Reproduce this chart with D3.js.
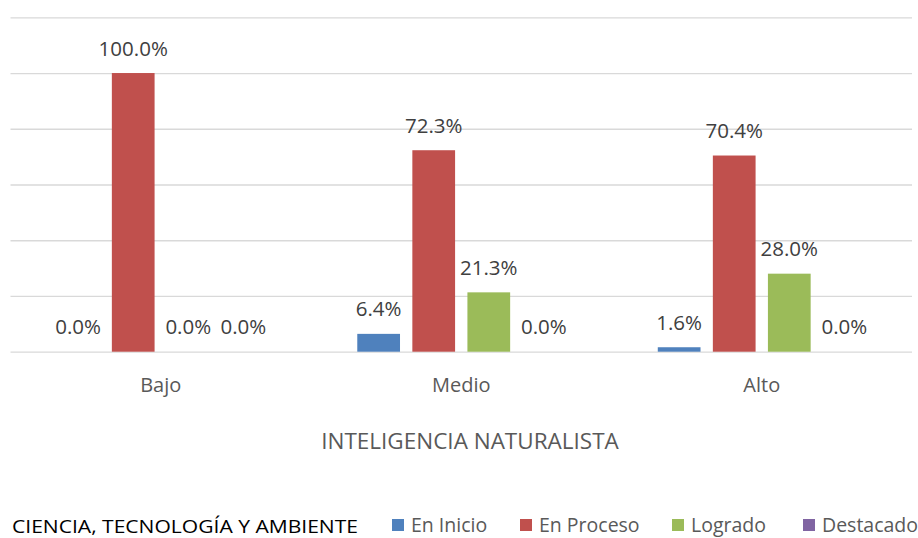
<!DOCTYPE html>
<html>
<head>
<meta charset="utf-8">
<script src="https://cdn.jsdelivr.net/npm/d3@7"></script>
<style>
  html, body { margin: 0; padding: 0; background: #fff; }
  svg { display: block; }
  text { font-family: "Open Sans", sans-serif; }
</style>
</head>
<body>
<svg id="chart" width="918" height="538"></svg>
<script>
const categories = ["Bajo", "Medio", "Alto"];
const seriesNames = ["En Inicio", "En Proceso", "Logrado", "Destacado"];
const enInicio = [0, 6.4, 1.6];
const enProceso = [100, 72.3, 70.4];
const logrado = [0, 21.3, 28.0];
const destacado = [0, 0, 0];
const yTicks = [0, 20, 40, 60, 80, 100, 120];
const colors = ["#4F81BD", "#C0504D", "#9BBB59", "#8064A2"];
const xTitle = "INTELIGENCIA NATURALISTA";
const legendTitle = "CIENCIA, TECNOLOGÍA Y AMBIENTE";

const seriesValues = [enInicio, enProceso, logrado, destacado];
const svg = d3.select("#chart");

const plotLeft = 10.5, plotRight = 912, plotTop = 17.3, plotBottom = 351.7;

const x0 = d3.scaleBand().domain(categories).range([plotLeft, plotRight])
  .paddingInner(0.308).paddingOuter(0.154);
const x1 = d3.scaleBand().domain(seriesNames).range([0, x0.bandwidth()])
  .paddingInner(0.224).paddingOuter(0);
const y = d3.scaleLinear().domain([0, 120]).range([plotBottom, plotTop]);

// gridlines
const yAxis = d3.axisLeft(y).tickValues(yTicks).tickSize(-(plotRight - plotLeft)).tickFormat("");
const gAxis = svg.append("g").attr("transform", `translate(${plotLeft},0)`).call(yAxis);
gAxis.select(".domain").remove();
gAxis.selectAll(".tick line").attr("stroke", "#d9d9d9").attr("stroke-width", 1.3);

// bars
categories.forEach((cat, ci) => {
  const g = svg.append("g").attr("transform", `translate(${x0(cat)},0)`);
  const data = seriesNames.map((s, si) => ({ s, si, v: seriesValues[si][ci] }));
  g.selectAll("rect").data(data).join("rect")
    .attr("x", d => x1(d.s))
    .attr("width", x1.bandwidth())
    .attr("y", d => y(d.v))
    .attr("height", d => plotBottom - y(d.v))
    .attr("fill", d => colors[d.si]);
  g.selectAll("text.lbl").data(data).join("text").attr("class", "lbl")
    .attr("x", d => x1(d.s) + x1.bandwidth() / 2)
    .attr("y", d => y(d.v) - 17.5)
    .attr("text-anchor", "middle")
    .attr("font-size", 20.5)
    .attr("fill", "#404040")
    .text(d => d.v.toFixed(1) + "%");
});

// category axis labels
const xAxis = d3.axisBottom(x0).tickSize(0).tickPadding(0);
const gx = svg.append("g").attr("transform", `translate(0,${plotBottom})`).call(xAxis);
gx.select(".domain").remove();
gx.selectAll(".tick text")
  .attr("y", 40)
  .attr("dy", 0)
  .attr("font-size", 20)
  .attr("font-family", "Open Sans, sans-serif")
  .attr("fill", "#595959");

// x title
svg.append("text")
  .attr("x", 470).attr("y", 449)
  .attr("text-anchor", "middle")
  .attr("font-size", 22.5)
  .attr("fill", "#595959")
  .text(xTitle);

// legend title
svg.append("text")
  .attr("x", 12).attr("y", 533)
  .attr("font-size", 19)
  .attr("fill", "#000")
  .attr("textLength", 346)
  .attr("lengthAdjust", "spacingAndGlyphs")
  .text(legendTitle);

// legend
const legendX = [392, 520, 672, 803];
const legend = svg.append("g").selectAll("g").data(seriesNames).join("g")
  .attr("transform", (d, i) => `translate(${legendX[i]},0)`);
legend.append("rect").attr("x", 0).attr("y", 519).attr("width", 12).attr("height", 12)
  .attr("fill", (d, i) => colors[i]);
legend.append("text").attr("x", 19).attr("y", 532)
  .attr("font-size", 19.5)
  .attr("fill", "#595959")
  .text(d => d);
</script>
</body>
</html>
